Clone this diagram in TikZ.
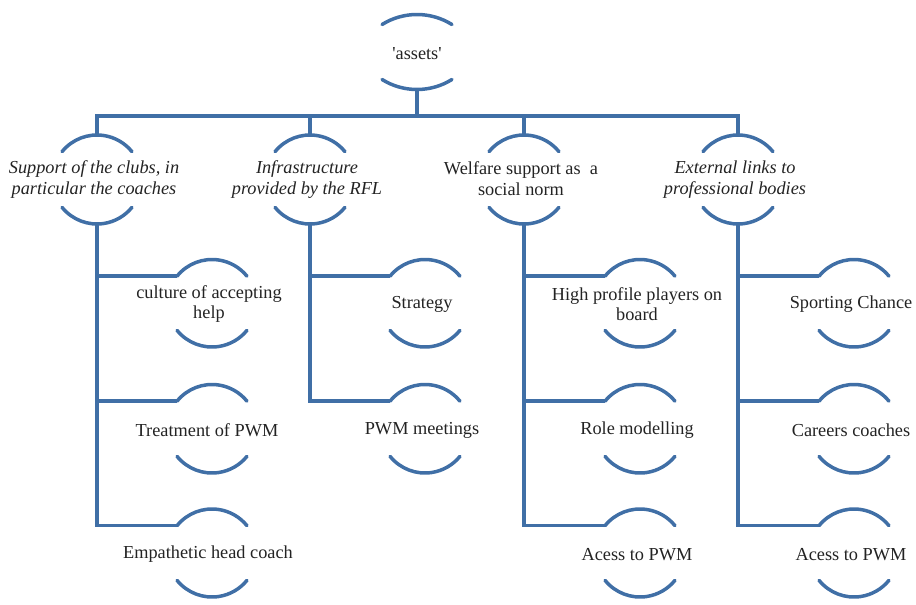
\documentclass[tikz,border=0pt]{standalone}
\usepackage{tikz}
\usepackage{xcolor}
\usepackage{fontspec}
\setmainfont{Liberation Serif}
\definecolor{arcblue}{RGB}{64,111,166}
\definecolor{inkgray}{RGB}{35,35,35}

\tikzset{
  ring/.style={arcblue, line width=3.5pt, line cap=round},
  link/.style={arcblue, line width=3.5pt},
  label/.style={inkgray, align=center, inner sep=0pt, font=\fontsize{18.3}{20.5}\selectfont}
}

% #1 name, #2 x, #3 top peak y, #4 bottom peak y (pixels down), #5 radius, #6 half angle
\newcommand{\rings}[6]{%
  \coordinate (#1-t) at (#2,-#3);
  \coordinate (#1-b) at (#2,-#4);
  \path (#1-t) ++({-#5*sin(#6)},{-#5*(1-cos(#6))}) coordinate (#1-l);
  \draw[ring] (#1-l) arc[start angle={90+#6}, end angle={90-#6}, radius=#5];
  \path (#1-b) ++({-#5*sin(#6)},{#5*(1-cos(#6))}) coordinate (#1-bl);
  \draw[ring] (#1-bl) arc[start angle={270-#6}, end angle={270+#6}, radius=#5];
}

\begin{document}
\begin{tikzpicture}[x=1pt, y=1pt]
    \useasboundingbox (0,0) rectangle (916,-605);

    % Top
    \node[label] (assets) at (417,-53.5) {\textquotesingle assets\textquotesingle};
    \rings{assets}{417}{14.5}{89.5}{66}{32}
    \coordinate (bus) at (417,-116);

    % Second level
    \node[label] (clubs) at (94,-179.5) {\itshape Support of the clubs, in\\\itshape particular the coaches};
    \rings{clubs}{97}{135}{224}{45}{51}
    \node[label] (infra) at (307,-179.5) {\itshape Infrastructure\\\itshape provided by the RFL};
    \rings{infra}{310}{135}{224}{45}{51}
    \node[label] (welfare) at (521,-178.5) {Welfare support as\ \ a\\social norm};
    \rings{welfare}{524}{135}{224}{45}{51}
    \node[label] (links) at (735,-179.5) {\itshape External links to\\\itshape professional bodies};
    \rings{links}{738}{135}{224}{45}{51}

    \draw[link] (assets-b) -- (assets-b |- bus);
    \draw[link] (clubs-t) -- (clubs-t |- bus) -- (links-t |- bus) -- (links-t);
    \draw[link] (infra-t) -- (infra-t |- bus);
    \draw[link] (welfare-t) -- (welfare-t |- bus);

    % Clubs column
    \node[label] (culture) at (209,-304) {culture of accepting\\help};
    \rings{culture}{212}{259.5}{347}{45}{51}
    \node[label] (treat) at (207,-430.5) {Treatment of PWM};
    \rings{treat}{212}{384.5}{473}{45}{51}
    \node[label] (empath) at (208,-554.5) {Empathetic head coach};
    \rings{empath}{212}{509}{597}{45}{51}

    % RFL column
    \node[label] (strategy) at (422,-304.5) {Strategy};
    \rings{strategy}{425}{259.5}{347}{45}{51}
    \node[label] (meetings) at (422,-430.5) {PWM meetings};
    \rings{meetings}{425}{384.5}{473}{45}{51}

    % Welfare column
    \node[label] (players) at (637,-304) {High profile players on\\board};
    \rings{players}{640}{259.5}{347}{45}{51}
    \node[label] (role) at (637,-430.5) {Role modelling};
    \rings{role}{640}{384.5}{473}{45}{51}
    \node[label] (access) at (637,-554.5) {Acess to PWM};
    \rings{access}{640}{509}{597}{45}{51}

    % External column
    \node[label] (sporting) at (851,-304.5) {Sporting Chance};
    \rings{sporting}{854}{259.5}{347}{45}{51}
    \node[label] (careers) at (851,-430.5) {Careers coaches};
    \rings{careers}{854}{384.5}{473}{45}{51}
    \node[label] (extaccess) at (851,-554.5) {Acess to PWM};
    \rings{extaccess}{854}{509}{597}{45}{51}

    % Branches
    \draw[link] (clubs-b) |- (culture-l);
    \draw[link] (clubs-b) |- (treat-l);
    \draw[link] (clubs-b) |- (empath-l);
    \draw[link] (infra-b) |- (strategy-l);
    \draw[link] (infra-b) |- (meetings-l);
    \draw[link] (welfare-b) |- (players-l);
    \draw[link] (welfare-b) |- (role-l);
    \draw[link] (welfare-b) |- (access-l);
    \draw[link] (links-b) |- (sporting-l);
    \draw[link] (links-b) |- (careers-l);
    \draw[link] (links-b) |- (extaccess-l);
\end{tikzpicture}
\end{document}
